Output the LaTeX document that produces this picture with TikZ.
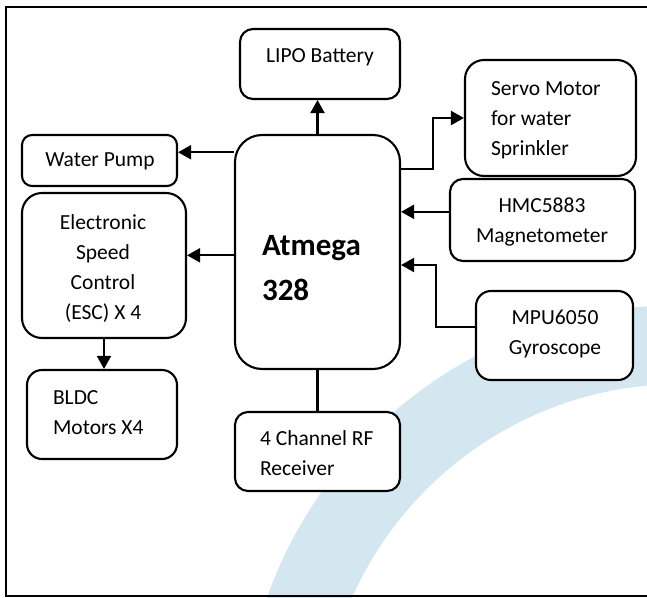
\documentclass[tikz,border=0pt]{standalone}
\usepackage{fontspec}
\setmainfont{Carlito}
\usetikzlibrary{arrows.meta,calc}
\definecolor{wmblue}{RGB}{212,230,240}
\tikzset{every picture/.style={line width=2.1pt}}
\tikzset{
	blk/.style={draw, fill=white, rounded corners=#1, inner sep=0pt},
	blk/.default=13pt,
	txt/.style={inner sep=0pt, font=\fontsize{21.5}{30}\selectfont},
	arr/.style={-{Triangle[length=13pt,width=14pt]}}}

\begin{document}
\begin{tikzpicture}[x=1pt,y=1pt,yscale=-1]
	\useasboundingbox (0,0) rectangle (647,597);
	\clip (0,0) rectangle (647,597);

	%Shape: Ring [watermark]
	\fill[wmblue, even odd rule] (681,744) circle[radius=439] (681,744) circle[radius=360];
	%Shape: Frame
	\draw (660,7) -- (6,7) -- (6,596) -- (660,596);

	%Shape: Rounded Rectangle [atmega]
	\node[blk=27pt, minimum width=165pt, minimum height=234pt] (atm) at (317.5,252) {};
	%Shape: Rounded Rectangle [battery]
	\node[blk, minimum width=160pt, minimum height=70pt] (lipo) at (320,64) {};
	%Shape: Rounded Rectangle [servo]
	\node[blk=19pt, minimum width=171pt, minimum height=116pt] (servo) at (550.5,118) {};
	%Shape: Rounded Rectangle [pump]
	\node[blk=10pt, minimum width=155pt, minimum height=51pt] (pump) at (99.5,160.5) {};
	%Shape: Rounded Rectangle [esc]
	\node[blk=20pt, minimum width=164pt, minimum height=145pt] (esc) at (104,265.5) {};
	%Shape: Rounded Rectangle [magnetometer]
	\node[blk, minimum width=185pt, minimum height=82pt] (hmc) at (542.5,220) {};
	%Shape: Rounded Rectangle [gyroscope]
	\node[blk=15pt, minimum width=157pt, minimum height=89pt] (mpu) at (554.5,335.5) {};
	%Shape: Rounded Rectangle [motors]
	\node[blk=15pt, minimum width=150pt, minimum height=89pt] (bldc) at (102,414.5) {};
	%Shape: Rounded Rectangle [receiver]
	\node[blk, minimum width=165pt, minimum height=79pt] (rf) at (317.5,451.5) {};

	%Straight Lines
	\draw[arr] (atm.north) -- (atm.north |- lipo.south);
	%Straight Lines
	\draw[arr] (atm.west |- pump.6) -- (pump.6);
	%Straight Lines
	\draw[arr] (atm.west |- esc.7) -- (esc.7);
	%Straight Lines
	\draw[arr] ($(atm.north east)+(0,35)$) -- ++(32,0) |- (servo.west);
	%Straight Lines
	\draw[arr] (hmc.175) -- (atm.east |- hmc.175);
	%Straight Lines
	\draw[arr] (mpu.174) -- ++(-39,0) |- ($(atm.east)+(0,13)$);
	%Straight Lines
	\draw[arr] (esc.south) -- (esc.south |- bldc.north);
	%Straight Lines
	\draw (atm.south) -- (atm.south |- rf.north);

	% Text Node
	\node[txt, font=\bfseries\fontsize{31}{45}\selectfont, align=left, anchor=west] (atmtxt) at (261,268) {Atmega\\328};
	% Text Node
	\node[txt] (lipotxt) at (320,57) {LIPO Battery};
	% Text Node
	\node[txt, align=left, anchor=west] (servotxt) at (490,120) {Servo Motor\\for water\\Sprinkler};
	% Text Node
	\node[txt] (pumptxt) at (100,161) {Water Pump};
	% Text Node
	\node[txt, align=center] (esctxt) at (103,269) {Electronic\\Speed\\Control\\(ESC) X 4};
	% Text Node
	\node[txt, align=center] (hmctxt) at (542,222) {HMC5883\\Magnetometer};
	% Text Node
	\node[txt, align=center] (mputxt) at (555,334) {MPU6050\\Gyroscope};
	% Text Node
	\node[txt, align=left, anchor=west] (bldctxt) at (52,413) {BLDC\\Motors X4};
	% Text Node
	\node[txt, align=left, anchor=west] (rftxt) at (259,453) {4 Channel RF\\Receiver};
\end{tikzpicture}
\end{document}
